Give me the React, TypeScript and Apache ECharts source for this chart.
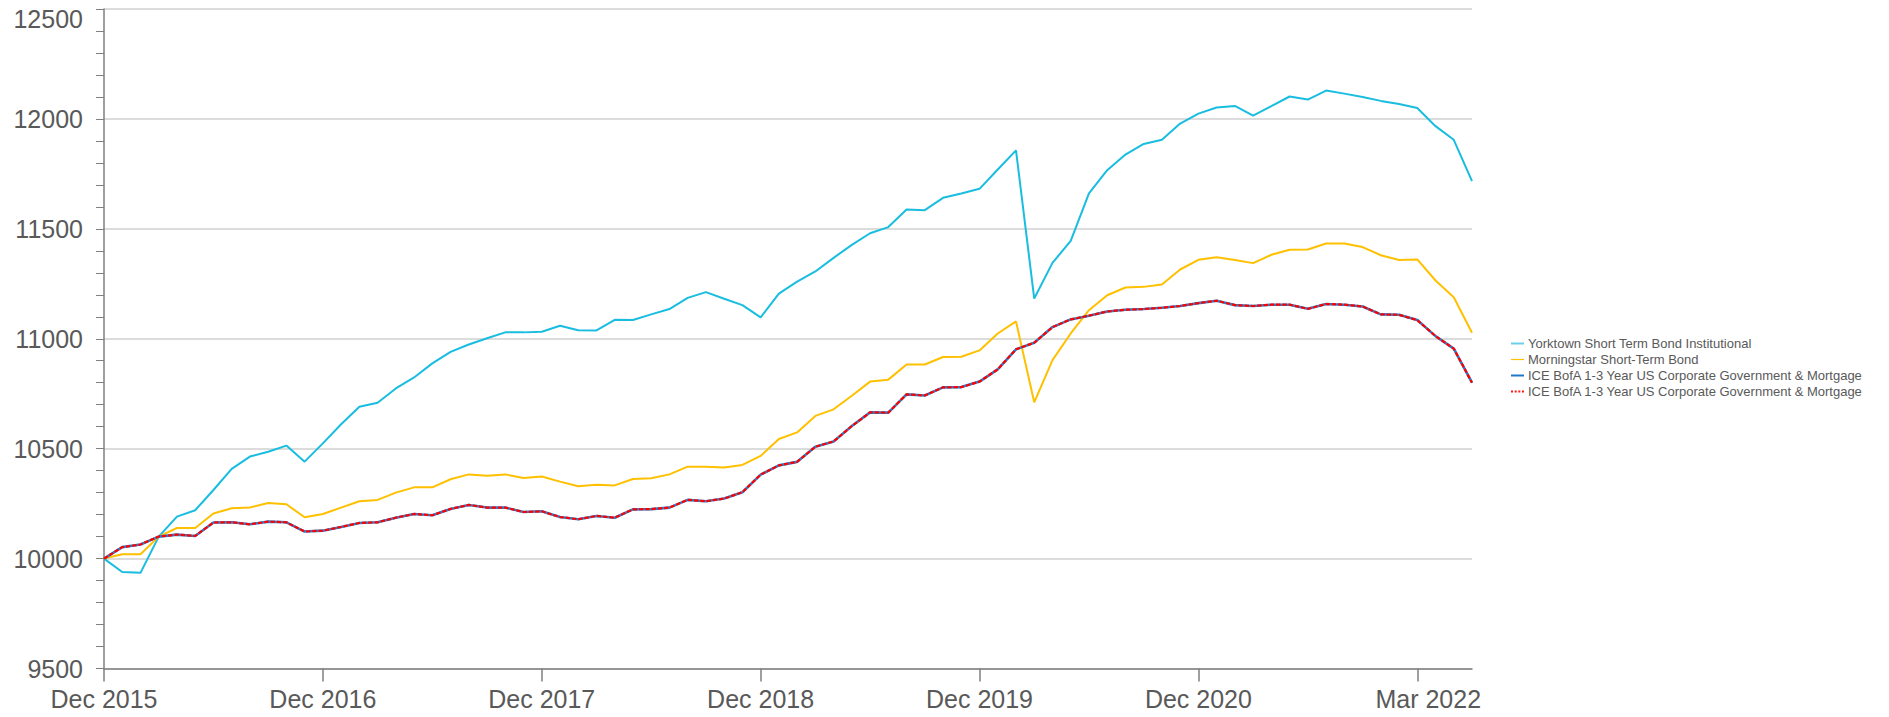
import React, { useEffect, useRef } from "react";
import * as echarts from "echarts";

const months = [
  "Dec 2015",
  "Jan 2016", "Feb 2016", "Mar 2016", "Apr 2016", "May 2016", "Jun 2016", "Jul 2016", "Aug 2016", "Sep 2016", "Oct 2016", "Nov 2016", "Dec 2016",
  "Jan 2017", "Feb 2017", "Mar 2017", "Apr 2017", "May 2017", "Jun 2017", "Jul 2017", "Aug 2017", "Sep 2017", "Oct 2017", "Nov 2017", "Dec 2017",
  "Jan 2018", "Feb 2018", "Mar 2018", "Apr 2018", "May 2018", "Jun 2018", "Jul 2018", "Aug 2018", "Sep 2018", "Oct 2018", "Nov 2018", "Dec 2018",
  "Jan 2019", "Feb 2019", "Mar 2019", "Apr 2019", "May 2019", "Jun 2019", "Jul 2019", "Aug 2019", "Sep 2019", "Oct 2019", "Nov 2019", "Dec 2019",
  "Jan 2020", "Feb 2020", "Mar 2020", "Apr 2020", "May 2020", "Jun 2020", "Jul 2020", "Aug 2020", "Sep 2020", "Oct 2020", "Nov 2020", "Dec 2020",
  "Jan 2021", "Feb 2021", "Mar 2021", "Apr 2021", "May 2021", "Jun 2021", "Jul 2021", "Aug 2021", "Sep 2021", "Oct 2021", "Nov 2021", "Dec 2021",
  "Jan 2022", "Feb 2022", "Mar 2022",
];

const xTickLabels = ["Dec 2015", "Dec 2016", "Dec 2017", "Dec 2018", "Dec 2019", "Dec 2020", "Mar 2022"];

const yorktown = [
  10000, 9939, 9935, 10100, 10191, 10220, 10312, 10408, 10464, 10486, 10514, 10441, 10524,
  10611, 10691, 10709, 10774, 10824, 10888, 10940, 10974, 11002, 11029, 11029, 11032,
  11059, 11039, 11038, 11086, 11085, 11111, 11135, 11186, 11212, 11182, 11153, 11097,
  11205, 11260, 11306, 11368, 11427, 11480, 11508, 11588, 11585, 11641, 11661, 11682,
  11770, 11857, 11183, 11345, 11445, 11661, 11767, 11838, 11886, 11905, 11979, 12024,
  12052, 12059, 12015, 12058, 12102, 12088, 12129, 12115, 12100, 12082, 12068, 12050,
  11967, 11905, 11717,
];

const morningstar = [
  10000, 10020, 10020, 10100, 10139, 10139, 10205, 10229, 10232, 10253, 10247, 10188, 10203,
  10232, 10261, 10267, 10300, 10324, 10324, 10361, 10383, 10377, 10383, 10367, 10373,
  10350, 10329, 10336, 10333, 10362, 10365, 10383, 10418, 10418, 10414, 10426, 10467,
  10544, 10574, 10649, 10679, 10741, 10805, 10814, 10883, 10883, 10917, 10918, 10947,
  11024, 11079, 10711, 10903, 11024, 11130, 11198, 11233, 11236, 11247, 11315, 11359,
  11371, 11358, 11344, 11382, 11405, 11406, 11433, 11433, 11417, 11380, 11358, 11361,
  11265, 11189, 11027,
];

const iceBofA = [
  10000, 10052, 10064, 10100, 10109, 10103, 10164, 10165, 10156, 10168, 10165, 10123, 10127,
  10144, 10162, 10165, 10186, 10203, 10197, 10226, 10244, 10232, 10232, 10212, 10215,
  10189, 10179, 10194, 10186, 10224, 10225, 10232, 10267, 10261, 10273, 10302, 10382,
  10424, 10440, 10509, 10533, 10603, 10665, 10664, 10747, 10742, 10779, 10780, 10805,
  10861, 10952, 10982, 11053, 11088, 11105, 11124, 11132, 11135, 11141, 11149, 11162,
  11173, 11153, 11149, 11155, 11155, 11136, 11158, 11155, 11147, 11111, 11109, 11085,
  11012, 10955, 10800,
];

const seriesNames = [
  "Yorktown Short Term Bond Institutional",
  "Morningstar Short-Term Bond",
  "ICE BofA 1-3 Year US Corporate Government & Mortgage",
  "ICE BofA 1-3 Year US Corporate Government & Mortgage ",
];

const FONT = "'Liberation Sans', Arial, Helvetica, sans-serif";
const TEXT = "#595959";
const AXIS = "#7f7f7f";

const SOLID_ICON = "path://M0,0h13v2h-13z";
const THIN_ICON = "path://M0,0.4h13v1.2h-13z";
const DASH_ICON = "path://M0,0h2v2h-2z M3.6,0h2v2h-2z M7.2,0h2v2h-2z M10.8,0h2v2h-2z";

export default function App() {
  const ref = useRef<HTMLDivElement>(null);

  useEffect(() => {
    if (!ref.current) return;
    const chart = echarts.init(ref.current, undefined, { renderer: "svg" });
    chart.setOption({
      animation: false,
      backgroundColor: "#ffffff",
      grid: { left: 104, right: 417, top: 9, bottom: 48.5, containLabel: false },
      legend: {
        orient: "vertical",
        left: 1511,
        top: 337,
        padding: 0,
        itemWidth: 13,
        itemHeight: 14,
        itemGap: 3,
        symbolKeepAspect: true,
        data: [
          { name: seriesNames[0], icon: SOLID_ICON, itemStyle: { color: "#6ccfea", borderWidth: 0 } },
          { name: seriesNames[1], icon: THIN_ICON, itemStyle: { color: "#ffc000", borderWidth: 0 } },
          { name: seriesNames[2], icon: SOLID_ICON, itemStyle: { color: "#1f78c8", borderWidth: 0 } },
          { name: seriesNames[3], icon: DASH_ICON, itemStyle: { color: "#ff1a1a", borderWidth: 0 } },
        ],
        formatter: (name: string) => name.trim(),
        textStyle: { fontFamily: FONT, fontSize: 13, color: TEXT, padding: [0, 0, 0, -1] },
        selectedMode: false,
      },
      xAxis: {
        type: "category",
        data: months,
        boundaryGap: false,
        axisLine: { show: true, lineStyle: { color: AXIS, width: 1.5 } },
        axisTick: { show: true, interval: 11, length: 13, lineStyle: { color: AXIS, width: 1.5 } },
        axisLabel: {
          interval: 11,
          margin: 18,
          fontFamily: FONT,
          fontSize: 25,
          color: TEXT,
          formatter: (_v: string, idx: number) => {
            const i = Math.floor(idx / 12);
            const t = xTickLabels[i];
            if (i === xTickLabels.length - 1) return `{last|${t}}`;
            return t;
          },
          rich: {
            last: { fontFamily: FONT, fontSize: 25, color: TEXT, padding: [0, 0, 0, 22] },
          },
        },
        splitLine: { show: false },
      },
      yAxis: {
        type: "value",
        min: 9500,
        max: 12500,
        interval: 500,
        axisLine: { show: true, lineStyle: { color: AXIS, width: 1.5 } },
        axisTick: { show: true, length: 8, lineStyle: { color: AXIS, width: 1 } },
        minorTick: { show: true, splitNumber: 5, length: 8, lineStyle: { color: AXIS, width: 1 } },
        axisLabel: {
          margin: 21,
          fontFamily: FONT,
          fontSize: 25,
          color: TEXT,
          formatter: (v: number) => (v === 12500 ? `{top|${v}}` : `${v}`),
          rich: {
            top: { fontFamily: FONT, fontSize: 25, color: TEXT, padding: [20, 0, 0, 0] },
          },
        },
        splitLine: { show: true, lineStyle: { color: "#d0d0d0", width: 1.5 } },
      },
      series: [
        {
          name: seriesNames[0],
          type: "line",
          data: yorktown,
          symbol: "none",
          lineStyle: { color: "#19bde0", width: 2 },
          itemStyle: { color: "#19bde0" },
          z: 3,
        },
        {
          name: seriesNames[1],
          type: "line",
          data: morningstar,
          symbol: "none",
          lineStyle: { color: "#ffc000", width: 2 },
          itemStyle: { color: "#ffc000" },
          z: 3,
        },
        {
          name: seriesNames[2],
          type: "line",
          data: iceBofA,
          symbol: "none",
          lineStyle: { color: "#2a80d0", width: 2.6 },
          itemStyle: { color: "#2a80d0" },
          z: 4,
        },
        {
          name: seriesNames[3],
          type: "line",
          data: iceBofA,
          symbol: "none",
          lineStyle: { color: "#ff0000", width: 2.2, type: [4.5, 1.8] },
          itemStyle: { color: "#ff0000" },
          z: 5,
        },
      ],
    });
    return () => chart.dispose();
  }, []);

  return (
    <div
      ref={ref}
      style={{ position: "absolute", left: 0, top: 0, width: 1889, height: 717 }}
    />
  );
}
